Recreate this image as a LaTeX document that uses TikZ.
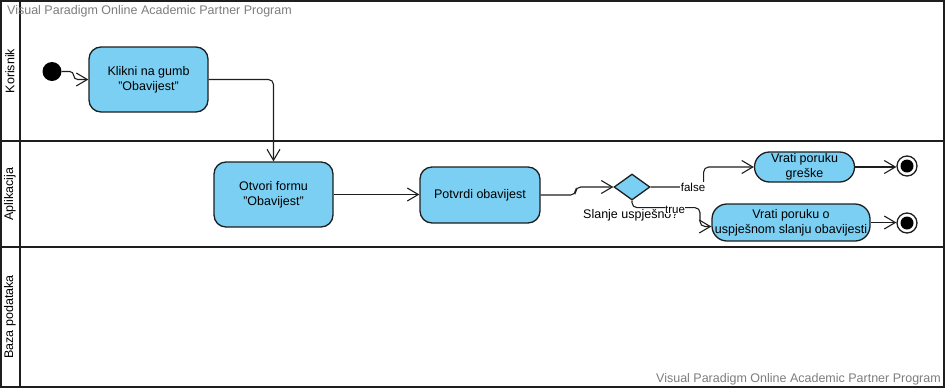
\documentclass[tikz,border=0pt]{standalone}
\usepackage{fontspec}
\setmainfont{Liberation Sans}
\usetikzlibrary{arrows.meta,shapes.geometric}
\definecolor{actfill}{RGB}{122,207,243}
\definecolor{wmgray}{RGB}{125,125,125}
\definecolor{ink}{RGB}{30,30,30}
\begin{document}
\begin{tikzpicture}[x=1pt,y=-1pt,
  lane/.style={line width=2.2pt, draw=ink},
  action/.style={draw=ink, line width=1.3pt, fill=actfill, rounded corners=12pt,
    align=center, inner sep=0pt, font=\fontsize{12.5}{15}\selectfont},
  decision/.style={diamond, draw=ink, line width=1.3pt, fill=actfill, inner sep=0pt,
    minimum width=36pt, minimum height=26pt},
  edge/.style={draw=ink, line width=1.1pt, rounded corners=5pt,
    -{Straight Barb[length=11pt,width=13pt,line width=1.1pt]}},
  guard/.style={fill=white, inner sep=0.5pt, font=\fontsize{11.5}{13}\selectfont},
  lanename/.style={rotate=90, font=\fontsize{12.5}{14}\selectfont},
  watermark/.style={text=wmgray, inner sep=0pt, font=\fontsize{12.5}{14}\selectfont},
  startnode/.style={circle, fill=black, minimum size=19pt, inner sep=0pt},
  endnode/.style={circle, draw=ink, line width=1.3pt, fill=white, minimum size=20pt, inner sep=0pt}
]
\useasboundingbox (0,0) rectangle (946,389);

% swimlanes
\draw[lane] (1,1) rectangle (944,387);
\draw[lane] (20,1) -- (20,387);
\draw[lane] (1,141) -- (944,141);
\draw[lane] (1,247) -- (944,247);
\node[lanename] (lkor) at (10,71) {Korisnik};
\node[lanename] (lapp) at (10,194) {Aplikacija};
\node[lanename] (lbaz) at (10,317) {Baza podataka};

% watermarks
\node[watermark, anchor=north west] (wm1) at (7,5) {Visual Paradigm Online Academic Partner Program};
\node[watermark, anchor=south east] (wm2) at (941,385) {Visual Paradigm Online Academic Partner Program};

% activity nodes
\node[startnode] (init) at (52,71.5) {};
\node[action, minimum width=119pt, minimum height=65pt] (kl) at (148.5,79.5) {Klikni na gumb\\"Obavijest"};
\node[action, minimum width=119pt, minimum height=65pt] (ot) at (273.5,194.5) {Otvori formu\\"Obavijest"};
\node[action, minimum width=120pt, minimum height=56pt] (pt) at (480,195) {Potvrdi obavijest};
\node[decision] (dec) at (632,187) {};
\node[action, rounded corners=15pt, minimum width=100pt, minimum height=30pt] (gr) at (804.5,167) {Vrati poruku\\greške};
\node[action, rounded corners=15pt, minimum width=158pt, minimum height=37pt] (us) at (791,222.5) {Vrati poruku o\\uspješnom slanju obavijesti};
\node[endnode] (fin1) at (907,166) {};
\fill[black] (fin1) circle (6.5);
\node[endnode] (fin2) at (907,223) {};
\fill[black] (fin2) circle (6.5);

\node[anchor=west, inner sep=0pt, font=\fontsize{12.5}{14}\selectfont] (cond) at (583,215) {Slanje uspješno?};

% flows
\draw[edge, rounded corners=4pt] (init.east) -- ++(12,0) |- (kl.west);
\draw[edge] (kl.east) -| (ot.north);
\draw[edge] (ot.east) -- (ot.east -| pt.west);
\draw[edge] (pt.east) -- ++(35,0) |- (dec.west);
\draw[edge] (dec.east) -- ++(53,0) |- (gr.west);
\draw[edge] (dec.south) |- ++(68,7) |- ([yshift=-4pt]us.west);
\draw[edge] (gr.east) -- (gr.east -| fin1.west);
\draw[edge] (us.east) -- (us.east -| fin2.west);

% guards
\node[guard] (gfalse) at (693,187) {false};
\node[guard] (gtrue) at (675,209.5) {true};
\end{tikzpicture}
\end{document}
